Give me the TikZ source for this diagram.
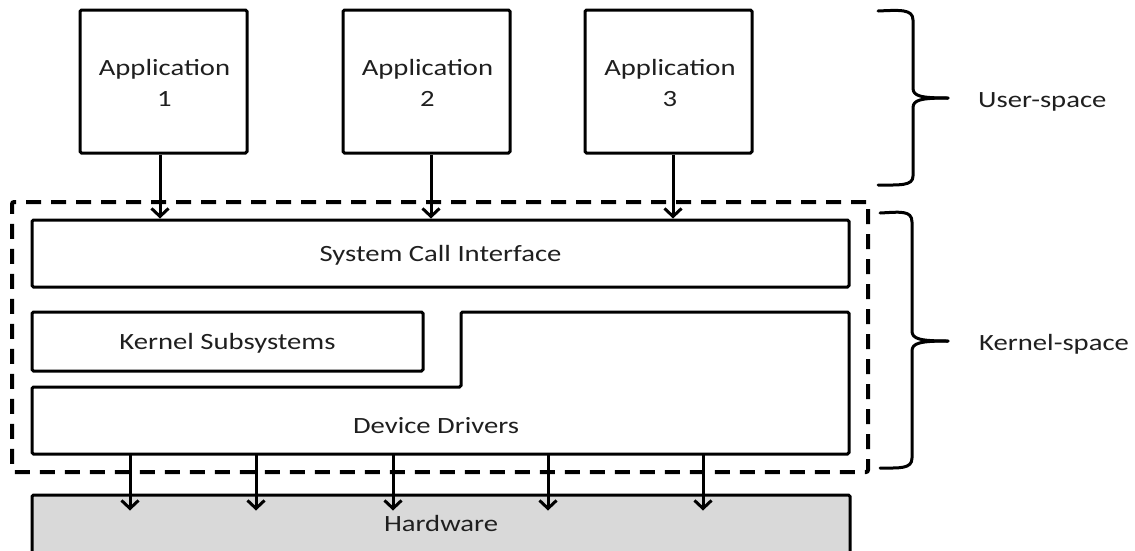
\documentclass[tikz,border=0pt]{standalone}
\usepackage{graphicx}
\usepackage{fontspec}
\setmainfont{Carlito}
\usetikzlibrary{arrows.meta}
% slightly widened lettering
\newcommand{\wt}[1]{\scalebox{1.23}[1]{#1}}
\begin{document}
\begin{tikzpicture}[x=1pt,y=-1pt,
  box/.style={draw, line width=3pt, rounded corners=1.5pt, inner sep=0pt},
  lbl/.style={inner sep=0pt, font=\fontsize{23.3}{31}\selectfont, text=black!88},
  arr/.style={line width=3pt, -{Straight Barb[length=8pt,width=17pt,line width=3pt]}},
  brace/.style={line width=3pt, line cap=round, line join=round},
  kernbox/.style={draw, line width=4pt, dash pattern=on 15pt off 10pt, rounded corners=2pt, inner sep=0pt}]
\clip (0,0) rectangle (1135,550);
\fill[white] (0,0) rectangle (1135,550);

% applications
\node[box, minimum width=167pt, minimum height=143pt] (app1) at (163.5,81.5) {};
\node[box, minimum width=167pt, minimum height=143pt] (app2) at (426.5,81.5) {};
\node[box, minimum width=167pt, minimum height=143pt] (app3) at (668.5,81.5) {};
\node[lbl, anchor=base] (app1t) at (164.5,75) {\wt{\begin{tabular}[t]{@{}c@{}}Application\\1\end{tabular}}};
\node[lbl, anchor=base] (app2t) at (427.5,75) {\wt{\begin{tabular}[t]{@{}c@{}}Application\\2\end{tabular}}};
\node[lbl, anchor=base] (app3t) at (670,75) {\wt{\begin{tabular}[t]{@{}c@{}}Application\\3\end{tabular}}};

% kernel
\node[kernbox, minimum width=856pt, minimum height=270pt] (kern) at (440,337) {};
\node[box, minimum width=817pt, minimum height=67pt] (sci) at (440.5,253.5) {};
\node[lbl, anchor=base] (scit) at (440.5,261.5) {\wt{System Call Interface}};
\node[box, minimum width=391pt, minimum height=59pt] (ks) at (227.5,341.5) {};
\node[lbl, anchor=base] (kst) at (227.5,349.3) {\wt{Kernel Subsystems}};
\draw[line width=3pt, rounded corners=1.5pt]
  (32,387) -- (461,387) -- (461,312) -- (849,312) -- (849,454) -- (32,454) -- cycle;
\node[lbl, anchor=base] (ddt) at (436,433) {\wt{Device Drivers}};
\coordinate (d1) at (130,454);
\coordinate (d2) at (256,454);
\coordinate (d3) at (393,454);
\coordinate (d4) at (548,454);
\coordinate (d5) at (703,454);

% hardware
\node[box, fill=black!15, minimum width=818pt, minimum height=80pt] (hw) at (441,535) {};
\node[lbl, anchor=base] (hwt) at (441,531.7) {\wt{Hardware}};
\coordinate (hwin) at ([yshift=-17pt]hw.north);

% calls into the kernel
\draw[arr] ([xshift=-3.5pt]app1.south) -- ([xshift=-3.5pt]app1.south |- sci.north);
\draw[arr] ([xshift=4.5pt]app2.south) -- ([xshift=4.5pt]app2.south |- sci.north);
\draw[arr] ([xshift=4.5pt]app3.south) -- ([xshift=4.5pt]app3.south |- sci.north);

% drivers to hardware
\foreach \d in {d1,d2,d3,d4,d5}
  \draw[arr] (\d) -- (\d |- hwin);

% braces
\draw[brace] (878,11) .. controls (900,10) and (913,9) .. (913,20)
  -- (913,88) .. controls (913,96) and (920,98) .. (948,98);
\draw[brace] (948,98) .. controls (920,98) and (913,100) .. (913,108)
  -- (913,176) .. controls (913,186) and (900,185) .. (878,185);
\draw[brace] (880,213) .. controls (900,212) and (912,210) .. (912,222)
  -- (912,331) .. controls (912,339) and (920,341) .. (948,341);
\draw[brace] (948,341) .. controls (920,341) and (912,343) .. (912,351)
  -- (912,458) .. controls (912,469) and (900,468) .. (880,468);
\node[lbl, anchor=base west] (us) at (978,107) {\wt{User-space}};
\node[lbl, anchor=base west] (ksp) at (979,350) {\wt{Kernel-space}};
\end{tikzpicture}
\end{document}
